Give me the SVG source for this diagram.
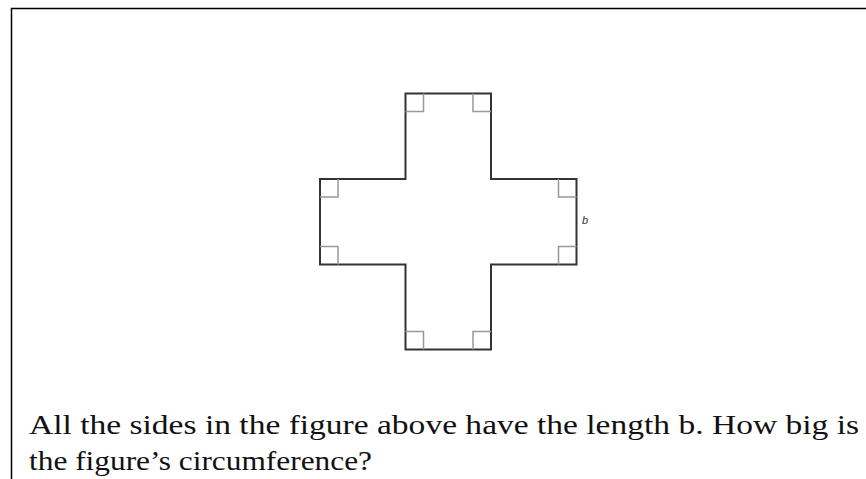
<svg xmlns="http://www.w3.org/2000/svg" width="866" height="479" viewBox="0 0 866 479">
<style>
.frame{fill:none;stroke:#000;stroke-width:1.5}
.outline{fill:none;stroke:#333;stroke-width:2;stroke-linejoin:miter}
.ra{fill:none;stroke:#999;stroke-width:1.5}
.q{font-family:"Liberation Serif","Times New Roman",serif;font-size:28px;fill:#111}
.lbl{font-family:"Liberation Sans",Arial,sans-serif;font-size:11px;font-style:italic;fill:#333}
</style>
<rect width="866" height="479" fill="#fff"/>
<path class="frame" d="M11.5,479 V8.5 H866"/>
<g id="cross">
<path class="outline" d="M405.5,93.5 H491 V179 H576.5 V264.5 H491 V349.5 H405.5 V264.5 H320 V179 H405.5 Z"/>
</g>
<g id="right-angles">
<path class="ra" d="M405.5,111.5 H423.5 V93.5"/>
<path class="ra" d="M491,111.5 H473 V93.5"/>
<path class="ra" d="M320,197 H338 V179"/>
<path class="ra" d="M320,246.5 H338 V264.5"/>
<path class="ra" d="M576.5,197 H558.5 V179"/>
<path class="ra" d="M576.5,246.5 H558.5 V264.5"/>
<path class="ra" d="M405.5,331.5 H423.5 V349.5"/>
<path class="ra" d="M491,331.5 H473 V349.5"/>
</g>
<g id="label-b"><text class="lbl" x="582" y="224">b</text></g>
<g id="question">
<text class="q" x="29" y="434" textLength="830" lengthAdjust="spacingAndGlyphs">All the sides in the figure above have the length b. How big is</text>
<text class="q" x="29" y="470" textLength="343" lengthAdjust="spacingAndGlyphs">the figure’s circumference?</text>
</g>
</svg>
